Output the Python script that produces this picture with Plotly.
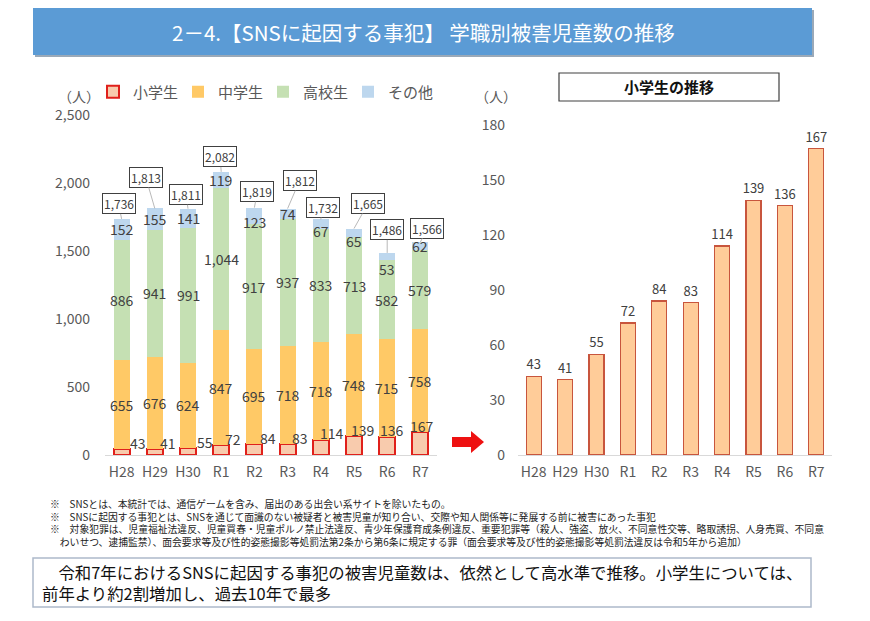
import plotly.graph_objects as go

# ---------------- data ----------------
categories = ["H28", "H29", "H30", "R1", "R2", "R3", "R4", "R5", "R6", "R7"]
elementary = [43, 41, 55, 72, 84, 83, 114, 139, 136, 167]
junior_high = [655, 676, 624, 847, 695, 718, 718, 748, 715, 758]
high_school = [886, 941, 991, 1044, 917, 937, 833, 713, 582, 579]
others = [152, 155, 141, 119, 123, 74, 67, 65, 53, 62]
totals = [1736, 1813, 1811, 2082, 1819, 1812, 1732, 1665, 1486, 1566]
series_names = ["小学生", "中学生", "高校生", "その他"]
left_yticks = [0, 500, 1000, 1500, 2000, 2500]
right_yticks = [0, 30, 60, 90, 120, 150, 180]

# ---------------- style ----------------
W, H = 870, 621
FONT = "Noto Sans CJK JP"
TXT = "#404040"
TICK = "#595959"
C_ELEM = "#F8CBAD"
C_ELEM_LINE = "#E0201B"
C_MID = "#FFC966"
C_HIGH = "#C5E0B3"
C_OTH = "#BDD7EE"
C_R_FILL = "#FFCC99"
C_R_LINE = "#C8553D"

# offsets (pixels) for labels
total_box_offsets = [(-3, -15), (-9, -31), (-2, -14), (-1, -15), (3, -16),
                     (12, -28), (2, -12), (14, -25), (0, -23), (7, -14)]
elem_label_xshift = [16, 13, 17, 12, 14, 12, 11, 9, 5, 2]
other_label_yshift = [0, 0, 0, 0, -6, 0, -7, -8, -12, 0]


def px(x):
    return x / W


def py(y):
    return 1 - y / H


def paper_text(x, y, text, size, color, xanchor="center", bold=False):
    return dict(x=px(x), y=py(y), xref="paper", yref="paper",
                text=f"<b>{text}</b>" if bold else text,
                xanchor=xanchor, yanchor="middle", showarrow=False, align="left",
                font=dict(family=FONT, size=size, color=color))


fig = go.Figure()

# left stacked chart
fig.add_trace(go.Bar(x=categories, y=elementary, name=series_names[0],
                     marker=dict(color=C_ELEM, line=dict(color=C_ELEM_LINE, width=2)),
                     xaxis="x", yaxis="y", hoverinfo="skip"))
fig.add_trace(go.Bar(x=categories, y=junior_high, name=series_names[1],
                     marker=dict(color=C_MID, line=dict(width=0)),
                     xaxis="x", yaxis="y", hoverinfo="skip"))
fig.add_trace(go.Bar(x=categories, y=high_school, name=series_names[2],
                     marker=dict(color=C_HIGH, line=dict(width=0)),
                     xaxis="x", yaxis="y", hoverinfo="skip"))
fig.add_trace(go.Bar(x=categories, y=others, name=series_names[3],
                     marker=dict(color=C_OTH, line=dict(width=0)),
                     xaxis="x", yaxis="y", hoverinfo="skip"))

# right chart
fig.add_trace(go.Bar(x=categories, y=elementary, showlegend=False,
                     marker=dict(color=C_R_FILL, line=dict(color=C_R_LINE, width=1.2)),
                     text=[str(v) for v in elementary], textposition="outside",
                     constraintext="none",
                     textfont=dict(family=FONT, size=13, color=TXT),
                     cliponaxis=False, xaxis="x2", yaxis="y2", hoverinfo="skip"))

annotations = []

# segment labels (centered in stacked segments)
for i, c in enumerate(categories):
    e, m, h, o = elementary[i], junior_high[i], high_school[i], others[i]
    segs = ((m, e + m / 2, 0), (h, e + m + h / 2, 0),
            (o, e + m + h + o / 2, other_label_yshift[i]))
    for val, mid, ys in segs:
        annotations.append(dict(x=c, y=mid, xref="x", yref="y", text=f"{val:,}",
                                showarrow=False, xanchor="center", yanchor="middle",
                                yshift=ys,
                                font=dict(family=FONT, size=14, color=TXT)))
    # elementary labels, outside to the right
    annotations.append(dict(x=c, y=e, xref="x", yref="y", text=str(e),
                            showarrow=False, xanchor="center", yanchor="middle",
                            xshift=elem_label_xshift[i], yshift=6,
                            font=dict(family=FONT, size=14, color=TXT)))
    # total boxes
    ax, ay = total_box_offsets[i]
    annotations.append(dict(x=c, y=totals[i], xref="x", yref="y", text=f"{totals[i]:,}",
                            showarrow=True, arrowhead=0, arrowwidth=0.8,
                            arrowcolor="#A6A6A6", ax=ax, ay=ay, standoff=0,
                            bordercolor="#404040", borderwidth=1, borderpad=1,
                            bgcolor="white",
                            font=dict(family=FONT, size=12, color=TXT)))

# unit labels
annotations.append(paper_text(79, 95.5, "（人）", 14, TICK))
annotations.append(paper_text(496, 95.5, "（人）", 14, TICK))

# title bar text
annotations.append(paper_text(423, 32, "2－4.【SNSに起因する事犯】 学職別被害児童数の推移",
                              20.5, "white"))

# right chart title box
annotations.append(paper_text(669, 87, "小学生の推移", 15, "#111111", bold=True))

# footnotes (one multi-line block)
notes = [
    "※　SNSとは、本統計では、通信ゲームを含み、届出のある出会い系サイトを除いたもの。",
    "※　SNSに起因する事犯とは、SNSを通じて面識のない被疑者と被害児童が知り合い、交際や知人関係等に発展する前に被害にあった事犯",
    "※　対象犯罪は、児童福祉法違反、児童買春・児童ポルノ禁止法違反、青少年保護育成条例違反、重要犯罪等（殺人、強盗、放火、不同意性交等、略取誘拐、人身売買、不同意",
    "　わいせつ、逮捕監禁）、面会要求等及び性的姿態撮影等処罰法第2条から第6条に規定する罪（面会要求等及び性的姿態撮影等処罰法違反は令和5年から追加）",
]
annotations.append(paper_text(48, 523, "<br>".join(notes), 9.8, "#222222", xanchor="left"))

# summary box text
annotations.append(paper_text(40, 571.5,
                              "　令和7年におけるSNSに起因する事犯の被害児童数は、依然として高水準で推移。小学生については、",
                              16.4, "#111111", xanchor="left"))
annotations.append(paper_text(40, 592.5, "前年より約2割増加し、過去10年で最多",
                              16.4, "#111111", xanchor="left"))

shapes = [
    # title bar shadow + bar
    dict(type="rect", xref="paper", yref="paper", x0=px(35), x1=px(814), y0=py(57), y1=py(10),
         fillcolor="#9AA9B8", line=dict(width=0), layer="below"),
    dict(type="rect", xref="paper", yref="paper", x0=px(33), x1=px(812), y0=py(55), y1=py(8),
         fillcolor="#5B9BD5", line=dict(width=0), layer="below"),
    # right title box
    dict(type="rect", xref="paper", yref="paper", x0=px(559), x1=px(779), y0=py(101), y1=py(73),
         fillcolor="white", line=dict(color="#404040", width=1.2), layer="below"),
    # summary box
    dict(type="rect", xref="paper", yref="paper", x0=px(33), x1=px(811), y0=py(607), y1=py(558),
         fillcolor="white", line=dict(color="#ADB9CA", width=1.5), layer="below"),
    # red arrow
    dict(type="path", xref="paper", yref="paper",
         path=(f"M {px(452)},{py(437)} L {px(471)},{py(437)} L {px(471)},{py(431)} "
               f"L {px(484)},{py(442)} L {px(471)},{py(453)} L {px(471)},{py(447)} "
               f"L {px(452)},{py(447)} Z"),
         fillcolor="#EE1111", line=dict(width=0)),
]

axis_font = dict(family=FONT, size=14, color=TICK)

fig.update_layout(
    width=W, height=H,
    margin=dict(l=0, r=0, t=0, b=0, autoexpand=False),
    paper_bgcolor="white", plot_bgcolor="white",
    barmode="stack", bargap=0.52,
    font=dict(family=FONT, color=TXT),
    showlegend=True,
    legend=dict(orientation="h", x=px(93), y=py(92), xanchor="left", yanchor="middle",
                entrywidth=40, entrywidthmode="pixels", itemwidth=30,
                font=dict(family=FONT, size=15, color=TICK), bgcolor="rgba(0,0,0,0)",
                traceorder="normal", itemclick=False, itemdoubleclick=False),
    xaxis=dict(domain=[px(105), px(437)], anchor="y", type="category",
               range=[-0.5, 9.5], showgrid=False, showline=True, linecolor="#D9D9D9",
               linewidth=1, ticks="", tickfont=axis_font, ticklabelstandoff=4,
               fixedrange=True, automargin=False),
    yaxis=dict(domain=[py(455), py(115)], anchor="x", range=[0, 2500],
               tickvals=left_yticks, tickformat=",", showgrid=False, showline=False,
               zeroline=False, ticks="", tickfont=axis_font, ticklabelstandoff=14,
               fixedrange=True, automargin=False),
    xaxis2=dict(domain=[px(518), px(832)], anchor="y2", type="category",
                range=[-0.5, 9.5], showgrid=False, showline=True, linecolor="#D9D9D9",
                linewidth=1, ticks="", tickfont=axis_font, ticklabelstandoff=4,
                fixedrange=True, automargin=False),
    yaxis2=dict(domain=[py(455), py(125)], anchor="x2", range=[0, 180],
                tickvals=right_yticks, showgrid=False, showline=False, zeroline=False,
                ticks="", tickfont=axis_font, ticklabelstandoff=12, fixedrange=True,
                automargin=False),
    annotations=annotations,
    shapes=shapes,
)

fig.write_html("out.html", config={"displayModeBar": False},
               post_script="document.body.style.margin='0';document.body.style.overflow='hidden';")
